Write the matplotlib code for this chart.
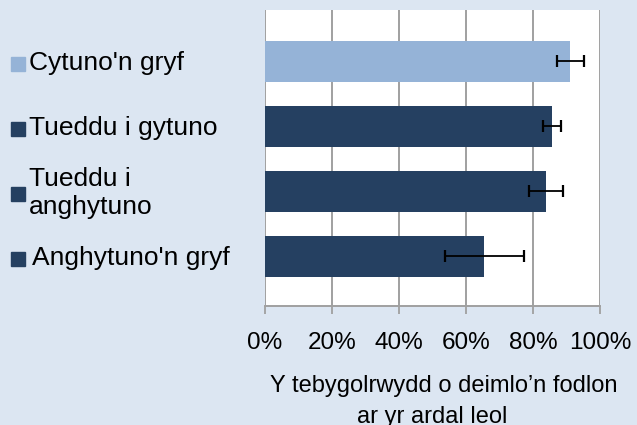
import matplotlib
matplotlib.use("Agg")
from matplotlib import pyplot as plt
from matplotlib.transforms import blended_transform_factory

# Data
categories = ["Cytuno'n gryf", "Tueddu i gytuno", "Tueddu i\nanghytuno", "Anghytuno'n gryf"]
values     = [0.911, 0.857, 0.839, 0.654]
err_low    = [0.039, 0.027, 0.052, 0.118]
err_high   = [0.040, 0.028, 0.050, 0.118]
colours    = ["#95B3D7", "#254061", "#254061", "#254061"]
ticks      = [0, 0.2, 0.4, 0.6, 0.8, 1.0]
tick_labels = ["0%", "20%", "40%", "60%", "80%", "100%"]

plt.rcParams['font.family'] = ['Liberation Sans', 'DejaVu Sans']

bg = "#DCE6F2"
fig = plt.figure(figsize=(6.37, 4.25), dpi=100, facecolor=bg)
ax  = fig.add_axes([265/637, 1-306/425, 335/637, 296/425])
ax.set_facecolor("white")

pos = list(range(len(categories)))
ax.barh(pos, values, height=0.63, color=colours, zorder=2)
ax.errorbar(values, pos, xerr=[err_low, err_high], fmt="none", ecolor="black",
	elinewidth=1.3, capsize=4.2, capthick=1.6, zorder=3)

ax.set_xlim(0, 1)
ax.set_ylim(3.762, -0.791)
ax.set_xticks(ticks)
ax.set_xticklabels(tick_labels, fontsize=17.5)
ax.set_yticks([])
ax.tick_params(axis="x", length=5.5, width=1.3, color="#A0A0A0", pad=13)
ax.grid(axis="x", color="#A0A0A0", linewidth=1.4, zorder=1)
ax.set_axisbelow(True)
for s in ["top", "right", "left"]:
	ax.spines[s].set_visible(False)
ax.spines["bottom"].set_color("#A0A0A0")
ax.spines["bottom"].set_linewidth(1.4)

# Legend-like category labels on the left
trans = blended_transform_factory(fig.transFigure, ax.transData)
for i, cat in enumerate(categories):
	ax.plot([18/637], [i + 0.045], marker="s", markersize=10.5, color=colours[i],
		transform=trans, clip_on=False, linestyle="none")
	xoff = 32/637 if i == 3 else 29/637
	ax.text(xoff, i + 0.03, cat, fontsize=19, va="center", ha="left",
		transform=trans, linespacing=1.2)

# Axis title (two lines)
fig.text(444/637, 1-386/425, "Y tebygolrwydd o deimlo\u2019n fodlon", fontsize=17, ha="center", va="center")
fig.text(432/637, 1-417/425, "ar yr ardal leol", fontsize=17, ha="center", va="center")

fig.savefig("out.png", dpi=100, facecolor=bg)
